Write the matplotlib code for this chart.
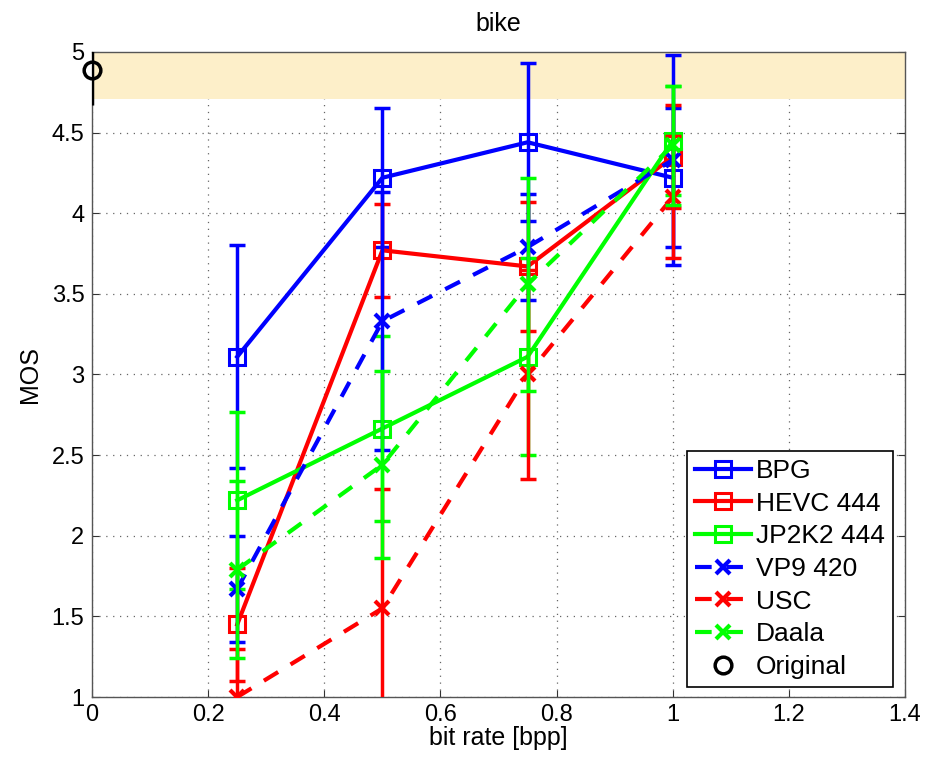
import matplotlib
matplotlib.use("Agg")
import matplotlib.pyplot as plt

plt.rcParams['font.family'] = ['Liberation Sans', 'DejaVu Sans']

bitrates = [0.25, 0.5, 0.75, 1.0]

bpg = [3.11, 4.22, 4.44, 4.22]
bpg_err = [0.69, 0.43, 0.49, 0.43]
hevc = [1.45, 3.77, 3.67, 4.35]
hevc_err = [0.35, 0.29, 0.40, 0.32]
jp2k2 = [2.22, 2.665, 3.11, 4.45]
jp2k2_err = [0.55, 0.575, 0.61, 0.34]
vp9 = [1.67, 3.33, 3.79, 4.33]
vp9_err = [0.33, 0.80, 0.33, 0.65]
usc = [1.00, 1.55, 3.00, 4.10]
usc_err = [0.30, 0.74, 0.65, 0.38]
daala = [1.79, 2.44, 3.56, 4.42]
daala_err = [0.55, 0.58, 0.66, 0.37]

orig_x = [0.0]
orig = [4.89]
orig_err = [0.22]

band = [4.71, 5.0]

series = [
    ("BPG", bpg, bpg_err, (0, 0, 1), '-', 's'),
    ("HEVC 444", hevc, hevc_err, (1, 0, 0), '-', 's'),
    ("JP2K2 444", jp2k2, jp2k2_err, (0, 1, 0), '-', 's'),
    ("VP9 420", vp9, vp9_err, (0, 0, 1), '--', 'x'),
    ("USC", usc, usc_err, (1, 0, 0), '--', 'x'),
    ("Daala", daala, daala_err, (0, 1, 0), '--', 'x'),
]

fig = plt.figure(figsize=(9.26, 7.62), dpi=100)
ax = fig.add_axes([0.0994, 0.0853, 0.8780, 0.8465])
ax.set_axisbelow(True)

ax.axhspan(band[0], band[1], color='#fdefc9', zorder=1, lw=0)

handles = []
z = 3
for name, vals, errs, col, ls, mk in series:
    ax.errorbar(bitrates, vals, yerr=errs, fmt='none', ecolor=col,
                elinewidth=2.5, capsize=6, capthick=2.5, zorder=z)
    ln, = ax.plot(bitrates, vals, linestyle=ls, color=col, lw=3,
                  marker=mk, markersize=12 if mk == 's' else 10,
                  markerfacecolor='none', markeredgecolor=col,
                  markeredgewidth=2.2 if mk == 's' else 3, zorder=z + 0.5,
                  label=name)
    if ls == '--':
        ln.set_dashes((4, 3.5))
    handles.append(ln)
    z += 1

ax.errorbar(orig_x, orig, yerr=orig_err, fmt='none', ecolor='black',
            elinewidth=2.5, capsize=0, zorder=z)
lo, = ax.plot(orig_x, orig, linestyle='none', marker='o', markersize=12,
              markerfacecolor='none', markeredgecolor='black',
              markeredgewidth=2.5, clip_on=False, zorder=z + 1, label='Original')
handles.append(lo)

ax.set_xlim(0, 1.4)
ax.set_ylim(1, 5)
xt = [0, 0.2, 0.4, 0.6, 0.8, 1, 1.2, 1.4]
yt = [1, 1.5, 2, 2.5, 3, 3.5, 4, 4.5, 5]
ax.set_xticks(xt)
ax.set_xticklabels(['0', '0.2', '0.4', '0.6', '0.8', '1', '1.2', '1.4'])
ax.set_yticks(yt)
ax.set_yticklabels(['1', '1.5', '2', '2.5', '3', '3.5', '4', '4.5', '5'])
ax.tick_params(direction='in', top=True, right=True, labelsize=17, length=5,
               width=0.8, colors='#333333', labelcolor='black')
ax.tick_params(axis='x', pad=5)
ax.tick_params(axis='y', pad=5.5)
ax.grid(True, linestyle=(0, (1, 4.5)), color='#666666', linewidth=0.9)
for s in ax.spines.values():
    s.set_color('#555555')
    s.set_linewidth(1.0)

ax.set_title('bike', fontsize=18, pad=15)
ax.set_xlabel('bit rate [bpp]', fontsize=18, labelpad=0)
ax.set_ylabel('MOS', fontsize=18, labelpad=7)

leg = ax.legend(handles=handles, loc='lower right', bbox_to_anchor=(0.985, 0.0155),
                fontsize=19, frameon=True, fancybox=False, edgecolor='black',
                framealpha=1, handlelength=2.1, handletextpad=0.2,
                borderpad=0.3, labelspacing=0.33, borderaxespad=0)
leg.get_frame().set_linewidth(1.2)
leg.set_zorder(20)

fig.savefig('out.png', dpi=100)
